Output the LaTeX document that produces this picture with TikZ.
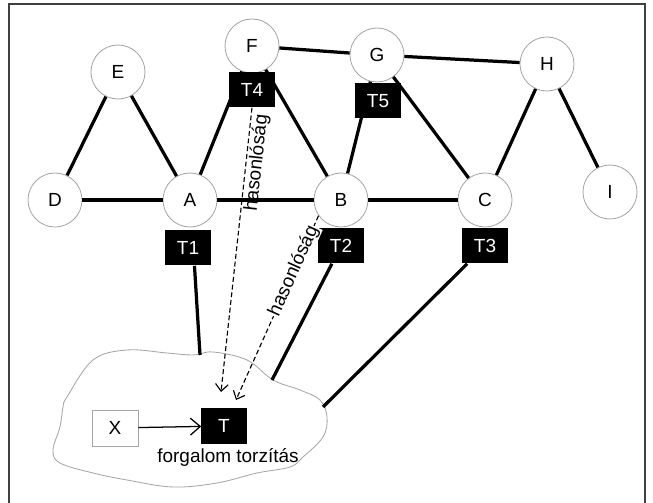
\documentclass[tikz,border=0pt]{standalone}
\usepackage{fontspec}
\setmainfont{Liberation Sans}
\usetikzlibrary{arrows.meta,positioning}
\tikzset{
  kor/.style = {circle, draw=gray!70, fill=white, line width=0.6pt,
    minimum size=1.35cm, inner sep=0pt},% csomopont
  tr/.style = {rectangle, fill=black, text=white,
    minimum width=1.125cm, minimum height=0.875cm, inner sep=0pt},% tranzakcio
  tr_x/.style = {rectangle, draw=gray!70, fill=white, line width=0.6pt,
    minimum width=1.15cm, minimum height=0.9cm, inner sep=0pt},% kulso
  el/.style = {line width=2.3pt},% el
  hasonlo/.style = {dashed, dash pattern=on 3.5pt off 2pt, line width=0.8pt,
    -{Straight Barb[length=5pt,width=9pt]}}% hasonlosag
}
\begin{document}
\begin{tikzpicture}[x=0.025cm, y=-0.025cm,
  every node/.style={font=\fontsize{13.5}{15}\selectfont}]
  \clip (0,0) rectangle (653,503);
  \draw [black!75, line width=0.9pt] (9,4) rectangle (645,520);

  \node [kor] (D) at (55,200)  {D};
  \node [kor] (A) at (190,200) {A};
  \node [kor] (E) at (118,72)  {E};
  \node [kor] (F) at (252,46)  {F};
  \node [kor] (G) at (377,55)  {G};
  \node [kor] (H) at (547,64)  {H};
  \node [kor] (B) at (341,200) {B};
  \node [kor] (C) at (485,200) {C};
  \node [kor] (I) at (610,192) {I};

  \foreach \from/\to in {D/E,E/A,D/A,A/B,B/C,A/F,F/B,F/G,G/H,G/B,G/C,H/C,H/I}
    \draw [el] (\from) -- (\to);

  \node [tr] (T1) at (188,248) {T1};
  \node [tr] (T2) at (341,246) {T2};
  \node [tr] (T3) at (485,246) {T3};
  \node [tr] (T4) at (252,90)  {T4};
  \node [tr] (T5) at (378,101) {T5};

  % felho
  \draw [gray!70, line width=0.6pt] plot [smooth cycle, tension=0.6] coordinates {
    (67,397) (93,360) (127,350) (167,353) (193,355) (213,352) (247,360)
    (273,380) (300,390) (320,400) (327,417) (323,437) (303,457) (290,467)
    (257,473) (217,483) (173,487) (127,480) (93,473) (60,463) (53,450)
    (60,427) (63,407)};
  \coordinate (k1) at (200,355);
  \coordinate (k2) at (272,380);
  \coordinate (k3) at (323,407);
  \foreach \from/\to in {T1.-70/k1,T2/k2,T3/k3}
    \draw [el] (\from) -- (\to);

  \node [tr_x] (X) at (115,428) {X};
  \node [tr]   (T) at (224,426) {T};
  \node (ft) at (228,457) {forgalom torzítás};
  \draw [line width=0.9pt, -{Straight Barb[length=7pt,width=12pt]}] (X) -- (T);

  \coordinate (v1) at (221,392);
  \coordinate (v2) at (236,400);
  \draw [hasonlo] (T4.south) -- node [pos=0.19, sloped, below, inner sep=1pt] {hasonlóság} (v1);
  \draw [hasonlo] (B.215) -- node [pos=0.3, sloped, fill=white, inner sep=0.5pt] {hasonlóság} (v2);
\end{tikzpicture}
\end{document}
